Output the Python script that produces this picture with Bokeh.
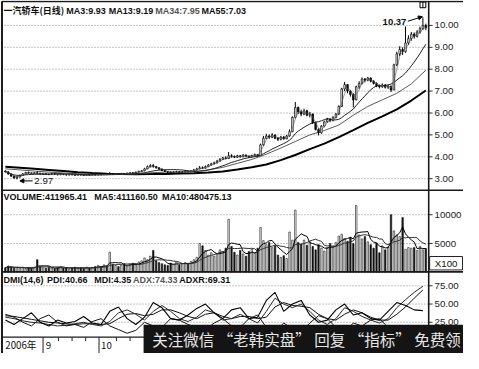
import pandas as pd
from bokeh.plotting import figure
from bokeh.models import Range1d, Arrow, NormalHead, ColumnDataSource
from bokeh.core.properties import value
from bokeh.embed import file_html
from bokeh.resources import INLINE

LAT = "Liberation Sans"
CJK = "Noto Sans CJK SC"

# ---------------- data ----------------
first_open = 3.35
closes = [
    3.32, 3.22, 3.12, 3.03, 3.08, 3.15, 3.22, 3.28, 3.26, 3.24,
    3.27, 3.25, 3.22, 3.24, 3.21, 3.19, 3.22, 3.20, 3.18, 3.21,
    3.19, 3.17, 3.20, 3.18, 3.16, 3.19, 3.17, 3.15, 3.18, 3.16,
    3.19, 3.17, 3.20, 3.18, 3.21, 3.19, 3.22, 3.20, 3.23, 3.21,
    3.24, 3.22, 3.25, 3.27, 3.26, 3.30, 3.33, 3.36, 3.45, 3.55,
    3.60, 3.56, 3.50, 3.44, 3.38, 3.33, 3.30, 3.28, 3.30, 3.32,
    3.29, 3.31, 3.34, 3.32, 3.35, 3.40, 3.45, 3.50, 3.48, 3.55,
    3.62, 3.68, 3.72, 3.80, 3.88, 3.95, 3.92, 4.05, 4.02, 3.98,
    4.05, 4.00, 4.08, 4.03, 4.00, 4.06, 4.10, 4.05, 4.55, 4.85,
    4.95, 4.90, 5.00, 4.85, 4.80, 4.90, 4.82, 4.95, 5.15, 5.80,
    6.25, 6.05, 5.95, 6.10, 5.90, 5.95, 5.55, 5.25, 5.10, 5.40,
    5.60, 5.70, 5.65, 5.80, 5.95, 6.30, 7.10, 7.30, 7.00, 6.85,
    6.60, 7.20, 7.35, 7.55, 7.50, 7.60, 7.45, 7.35, 7.25, 7.20,
    7.28, 7.18, 7.22, 7.05, 8.20, 8.70, 8.90, 8.80, 9.20, 9.40,
    9.60, 9.50, 9.70, 9.85, 10.00, 9.90,
]
highs = [
    3.38, 3.33, 3.23, 3.13, 3.12, 3.18, 3.25, 3.32, 3.33, 3.28,
    3.30, 3.34, 3.27, 3.27, 3.26, 3.23, 3.25, 3.24, 3.22, 3.24,
    3.23, 3.21, 3.23, 3.22, 3.20, 3.22, 3.21, 3.19, 3.21, 3.20,
    3.22, 3.21, 3.23, 3.22, 3.24, 3.23, 3.30, 3.25, 3.26, 3.25,
    3.27, 3.26, 3.28, 3.30, 3.30, 3.33, 3.37, 3.40, 3.50, 3.60,
    3.66, 3.68, 3.58, 3.52, 3.46, 3.40, 3.35, 3.33, 3.34, 3.36,
    3.34, 3.35, 3.38, 3.37, 3.39, 3.45, 3.50, 3.58, 3.56, 3.60,
    3.67, 3.73, 3.78, 3.86, 3.94, 4.00, 4.02, 4.22, 4.12, 4.06,
    4.09, 4.08, 4.12, 4.10, 4.06, 4.10, 4.15, 4.12, 4.60, 4.95,
    5.05, 5.02, 5.08, 5.02, 4.90, 4.95, 4.95, 5.00, 5.25, 5.85,
    6.50, 6.30, 6.15, 6.20, 6.15, 6.05, 5.98, 5.60, 5.30, 5.45,
    5.65, 5.78, 5.75, 5.85, 6.00, 6.35, 7.15, 7.42, 7.30, 7.05,
    6.90, 7.25, 7.45, 7.62, 7.60, 7.65, 7.62, 7.50, 7.40, 7.30,
    7.35, 7.32, 7.28, 7.25, 8.25, 8.80, 9.05, 9.00, 9.95, 9.55,
    9.70, 9.68, 9.78, 9.95, 10.37, 10.08,
]
lows = [
    3.28, 3.18, 3.08, 3.00, 2.97, 3.05, 3.13, 3.20, 3.23, 3.21,
    3.22, 3.20, 3.19, 3.20, 3.18, 3.16, 3.17, 3.17, 3.15, 3.16,
    3.16, 3.14, 3.15, 3.15, 3.13, 3.14, 3.14, 3.12, 3.13, 3.13,
    3.14, 3.14, 3.15, 3.15, 3.16, 3.16, 3.17, 3.17, 3.18, 3.18,
    3.19, 3.19, 3.20, 3.22, 3.23, 3.24, 3.28, 3.30, 3.34, 3.44,
    3.52, 3.50, 3.46, 3.40, 3.34, 3.30, 3.26, 3.24, 3.25, 3.27,
    3.26, 3.27, 3.29, 3.29, 3.30, 3.33, 3.38, 3.43, 3.44, 3.46,
    3.53, 3.60, 3.65, 3.70, 3.78, 3.85, 3.88, 3.90, 3.96, 3.94,
    3.95, 3.96, 3.98, 3.99, 3.96, 3.98, 4.02, 4.01, 4.05, 4.50,
    4.80, 4.82, 4.85, 4.80, 4.72, 4.75, 4.78, 4.80, 4.92, 5.12,
    5.75, 5.95, 5.85, 5.90, 5.85, 5.80, 5.50, 5.20, 4.98, 5.05,
    5.35, 5.55, 5.58, 5.62, 5.75, 5.92, 6.28, 7.00, 6.90, 6.75,
    6.26, 6.58, 7.10, 7.30, 7.40, 7.45, 7.40, 7.30, 7.18, 7.12,
    7.15, 7.12, 7.10, 6.96, 7.05, 8.15, 8.60, 8.65, 8.75, 9.10,
    9.30, 9.40, 9.45, 9.62, 9.80, 9.78,
]
volumes = [
    800, 1100, 900, 700, 850, 750, 900, 650, 800, 700, 900,
    2200,
    1000, 800, 700, 900, 750, 650, 800, 950, 700, 850, 600, 750, 900, 700, 800, 650, 900, 750, 850, 1000,
    1200, 1000, 1300, 1100, 3500, 1400, 1200, 1000, 1300, 1500, 1100, 1400, 1600, 1300, 1800, 2000,
    2500, 2200, 2800, 3800, 2000, 1700,
    1500, 1300, 1200, 1600, 1400, 1800, 1300, 1500, 1700, 1400, 1900,
    2200, 2600, 5000, 4600, 3800, 3000, 3400, 2800,
    3200, 3900, 3600, 4200, 9200,
    4500, 3500, 3000, 3800, 3200, 2800, 3600, 4000, 3300, 4200,
    7800, 5500, 4800, 5200, 4300, 4600,
    3000, 2600, 2900, 2400, 7000,
    5600, 10800, 5200, 4900, 5600, 4700, 5300,
    4500, 3900, 4800, 4200, 3700, 4300, 5000,
    4600, 5200, 6300, 6600, 5900,
    5400, 6100, 5000, 11600, 6500, 5800, 6200, 5300,
    4800, 4200, 5100, 3400, 4600, 3900, 4400,
    10000,
    7200, 6500, 6200, 9500,
    4000, 4300, 4200, 4300, 3800, 4500, 3900, 4120,
]
ma_idx = [0, 5, 10, 15, 20, 25, 30, 35, 40, 45, 50, 55, 60, 65, 70,
          75, 80, 85, 90, 95, 100, 105, 110, 115, 120, 125, 130, 135, 140, 145]
ma34 = [3.45, 3.40, 3.35, 3.30, 3.26, 3.23, 3.20, 3.19, 3.20, 3.22, 3.27, 3.30, 3.30, 3.32, 3.40,
        3.52, 3.70, 3.88, 4.12, 4.40, 4.70, 5.00, 5.20, 5.45, 5.90, 6.30, 6.60, 6.90, 7.33, 7.95]
ma55 = [3.55, 3.50, 3.45, 3.40, 3.35, 3.30, 3.26, 3.23, 3.21, 3.20, 3.21, 3.22, 3.24, 3.25, 3.28,
        3.33, 3.42, 3.52, 3.65, 3.85, 4.08, 4.35, 4.60, 4.90, 5.22, 5.55, 5.85, 6.17, 6.57, 7.03]
dmi_idx = list(range(0, 146, 3))
pdi = [28, 22, 30, 38, 25, 20, 28, 24, 26, 33, 24, 22, 40, 46, 30, 22, 32, 52, 45, 30,
       28, 35, 44, 50, 38, 30, 42, 45, 30, 32, 55, 66, 40, 50, 55, 35, 25, 28, 42, 50,
       35, 38, 30, 28, 40, 52, 48, 42, 41]
mdi = [36, 32, 25, 20, 30, 35, 25, 20, 22, 18, 26, 30, 20, 15, 10, 14, 25, 20, 18, 30,
       28, 22, 18, 15, 24, 30, 20, 18, 30, 35, 18, 12, 24, 16, 12, 24, 34, 30, 18, 12,
       24, 20, 28, 30, 18, 10, 8, 6, 4.35]
adx = [32, 30, 27, 25, 24, 22, 20, 21, 23, 25, 22, 20, 26, 38, 42, 36, 28, 40, 48, 40,
       30, 26, 32, 42, 38, 28, 30, 36, 30, 24, 40, 58, 50, 45, 50, 40, 28, 22, 30, 45,
       40, 33, 28, 24, 30, 45, 56, 66, 74.33]
adxr = [34, 33, 31, 29, 27, 25, 24, 23, 22, 23, 23, 22, 23, 30, 36, 37, 34, 36, 42, 42,
        38, 33, 30, 36, 38, 33, 30, 33, 33, 30, 32, 46, 52, 48, 47, 45, 36, 30, 28, 36,
        42, 38, 32, 28, 28, 36, 46, 58, 69.31]
price_ticks = [3, 4, 5, 6, 7, 8, 9, 10]
price_tick_labels = ["3.00", "4.00", "5.00", "6.00", "7.00", "8.00", "9.00", "10.00"]
vol_ticks = [5000, 10000]
vol_tick_labels = ["5000", "10000"]
dmi_ticks = [25, 50, 75]
dmi_tick_labels = ["25.00", "50.00", "75.00"]
date_labels = ["2006年", "9", "10"]
date_label_pos = [0.0, 13.9, 33.0]
month_sep_pos = [13.0, 32.3]
week_tick_pos = [18.3, 23.0, 27.7, 38.3, 43.0]

assert len(closes) == len(highs) == len(lows) == len(volumes) == 146
assert len(ma34) == len(ma55) == len(ma_idx)
assert len(pdi) == len(mdi) == len(adx) == len(adxr) == len(dmi_idx)

# ---------------- derived ----------------
n = len(closes)
idx = list(range(n))
opens = [first_open] + closes[:-1]
fills = ["white" if c >= o else "#111111" for o, c in zip(opens, closes)]
ma3 = pd.Series(closes).rolling(3, min_periods=1).mean().tolist()
ma13 = pd.Series(closes).rolling(13, min_periods=1).mean().tolist()
vma5 = pd.Series(volumes).rolling(5, min_periods=1).mean().tolist()
vma10 = pd.Series(volumes).rolling(10, min_periods=1).mean().tolist()

# ---------------- one figure, several panels via extra ranges ----------------
# "px" ranges follow the layout grid of the original picture (479 x 369 px grid)
W, H = 463, 353
p = figure(width=W, height=H,
           x_range=Range1d(-1.678, 158.0),          # bar index
           y_range=Range1d(369.0, 1.459),           # layout grid (top-down)
           x_axis_location=None, y_axis_location=None, min_border=0,
           output_backend="svg", toolbar_location=None)
p.outline_line_color = None
p.grid.visible = False
p.background_fill_color = "white"
p.border_fill_color = "white"
p.extra_x_ranges = {"px": Range1d(-0.035, 479.0)}
p.extra_y_ranges = {
    "price": Range1d(3 + (187 - 369) / 22.8, 3 + (187 - 1.459) / 22.8),
    "vol": Range1d((284.5 - 369) / 6 * 1000, (284.5 - 1.459) / 6 * 1000),
    "dmi": Range1d((355.5 - 369) / 0.76, (355.5 - 1.459) / 0.76),
}
DARK = "#1a1a1a"


def T(x, y, t, size="9px", font=LAT, style="bold", color="#111111", align="left",
      xr="px", yr="default", baseline="middle"):
    p.text(x=[x], y=[y], text=[t], text_font=value(font), text_font_size=value(size),
           text_font_style=style, text_color=color, text_align=align,
           text_baseline=baseline, x_range_name=xr, y_range_name=yr)


def L(x0, y0, x1, y1, w=1.6, color=DARK, xr="px", yr="default", dash="solid"):
    p.segment(x0=[x0], y0=[y0], x1=[x1], y1=[y1], line_width=w, line_color=color,
              line_dash=dash, x_range_name=xr, y_range_name=yr)


def axis(rname, ticks, labels):
    k = len(ticks)
    p.segment(x0=[1] * k, x1=[443] * k, y0=ticks, y1=ticks, line_color="#8a8a8a",
              line_width=1, line_dash="1 2", x_range_name="px", y_range_name=rname)
    p.segment(x0=[443] * k, x1=[447] * k, y0=ticks, y1=ticks, line_color="#333333",
              line_width=1, x_range_name="px", y_range_name=rname)
    p.text(x=[449] * k, y=ticks, text=labels, text_font=value(LAT),
           text_font_size=value("9.7px"), text_color="#222222", text_align="left",
           text_baseline="middle", x_range_name="px", y_range_name=rname)


axis("price", price_ticks, price_tick_labels)
axis("vol", vol_ticks, vol_tick_labels)
axis("dmi", dmi_ticks, dmi_tick_labels)

# ---------------- price panel ----------------
src = ColumnDataSource(dict(x=idx, h=highs, l=lows,
                            top=[max(o, c) for o, c in zip(opens, closes)],
                            bot=[min(o, c) for o, c in zip(opens, closes)],
                            fill=fills))
p.line(ma_idx, ma55, line_color="black", line_width=2, y_range_name="price")
p.line(ma_idx, ma34, line_color="#5a5a5a", line_width=1, y_range_name="price")
p.line(idx, ma13, line_color="#202020", line_width=1, y_range_name="price")
p.segment(x0="x", y0="l", x1="x", y1="h", source=src, line_color="black",
          line_width=1, y_range_name="price")
p.vbar(x="x", width=0.55, top="top", bottom="bot", fill_color="fill",
       line_color="black", line_width=0.7, source=src, y_range_name="price")
p.line(idx, ma3, line_color="#555555", line_width=0.6, y_range_name="price")

T(3, 12, "一汽轿车(日线)", font=CJK)
T(68, 12, "MA3:9.93")
T(112, 12, "MA13:9.19")
T(160, 12, "MA34:7.95", color="#555555")
T(208, 12, "MA55:7.03")

T(138.3, 10.14, "10.37", size="9.5px", align="right", xr="default", yr="price")
p.add_layout(Arrow(end=NormalHead(size=4, fill_color="black", line_color="black"),
                   x_start=138.8, y_start=10.19, x_end=143.8, y_end=10.40,
                   line_width=1, line_color="black", y_range_name="price"))
T(10.0, 2.90, "2.97", size="9.7px", style="normal", xr="default", yr="price")
p.add_layout(Arrow(end=NormalHead(size=4, fill_color="black", line_color="black"),
                   x_start=9.4, y_start=2.90, x_end=5.0, y_end=2.90,
                   line_width=1, line_color="black", y_range_name="price"))

# small window icon (top right)
p.quad(left=[434], right=[440], top=[3], bottom=[9], fill_color="white",
       line_color="black", line_width=1, x_range_name="px")
L(437, 3, 437, 9, w=1, color="black")

# ---------------- volume panel ----------------
vsrc = ColumnDataSource(dict(x=idx, v=volumes, fill=fills))
p.vbar(x="x", width=0.5, top="v", bottom=0, fill_color="fill",
       line_color="#111111", line_width=0.6, source=vsrc, y_range_name="vol")
p.line(idx, vma5, line_color="black", line_width=1, y_range_name="vol")
p.line(idx, vma10, line_color="#333333", line_width=1, y_range_name="vol")
T(3, 206, "VOLUME:411965.41")
T(97, 206, "MA5:411160.50")
T(167, 206, "MA10:480475.13")
p.quad(left=[444], right=[478], top=[268], bottom=[282], fill_color="white",
       line_color="#222222", line_width=1, x_range_name="px")
T(461, 275.3, "X100", size="9.7px", style="normal", align="center")

# ---------------- DMI panel ----------------
p.line(dmi_idx, adxr, line_color="#111111", line_width=1, y_range_name="dmi")
p.line(dmi_idx, adx, line_color="#2a2a2a", line_width=1, y_range_name="dmi")
p.line(dmi_idx, mdi, line_color="#111111", line_width=1, y_range_name="dmi")
p.line(dmi_idx, pdi, line_color="#000000", line_width=1.1, y_range_name="dmi")
T(3, 292, "DMI(14,6)")
T(48, 292, "PDI:40.66")
T(97, 292, "MDI:4.35")
T(137, 292, "ADX:74.33", color="#555555")
T(185, 292, "ADXR:69.31")

# ---------------- frame lines ----------------
L(1.5, 2.5, 1.5, 369, w=2)
L(1, 2.5, 479, 2.5)
L(443, 2.5, 443, 369)
L(1, 199, 479, 199)
L(1, 284, 479, 284)
L(1, 352, 443, 352, w=1.3)

# ---------------- date strip ----------------
k = len(month_sep_pos)
p.segment(x0=month_sep_pos, x1=month_sep_pos, y0=[352] * k, y1=[369] * k,
          line_color="#222222", line_width=1)
k = len(week_tick_pos)
p.segment(x0=week_tick_pos, x1=week_tick_pos, y0=[352] * k, y1=[356] * k,
          line_color="#222222", line_width=1)
p.text(x=date_label_pos, y=[360.5] * len(date_labels), text=date_labels,
       text_font=value(CJK), text_font_size=value("9.7px"), text_color="#111111",
       text_align="left", text_baseline="middle")

# ---------------- watermark bar ----------------
p.quad(left=[148], right=[480], top=[339], bottom=[370], fill_color="#141414",
       line_color=None, x_range_name="px")
T(157, 354, "关注微信 “老韩实盘” 回复 “指标” 免费领", size="15.5px", font=CJK,
  style="normal", color="#e6e6e6")

open("out.html", "w").write(file_html(p, INLINE))
